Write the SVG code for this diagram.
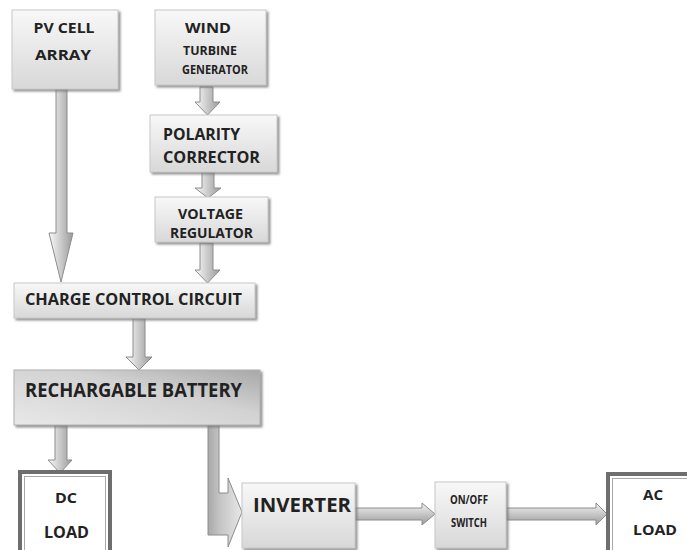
<svg xmlns="http://www.w3.org/2000/svg" width="687" height="550" viewBox="0 0 687 550">
<defs>
<linearGradient id="boxg" x1="0" y1="0" x2="0" y2="1">
<stop offset="0" stop-color="#f8f8f8"/>
<stop offset="1" stop-color="#d8d8d8"/>
</linearGradient>
<linearGradient id="batg" x1="0" y1="1" x2="1" y2="0">
<stop offset="0" stop-color="#e8e8e8"/>
<stop offset="0.6" stop-color="#d2d2d2"/>
<stop offset="1" stop-color="#a8a8a8"/>
</linearGradient>
<linearGradient id="varr" x1="0" y1="0" x2="1" y2="0">
<stop offset="0" stop-color="#fafafa"/>
<stop offset="1" stop-color="#9a9a9a"/>
</linearGradient>
<linearGradient id="harr" x1="0" y1="0" x2="0" y2="1">
<stop offset="0" stop-color="#f4f4f4"/>
<stop offset="1" stop-color="#9a9a9a"/>
</linearGradient>
<linearGradient id="bent" gradientUnits="userSpaceOnUse" x1="206" y1="0" x2="240" y2="0">
<stop offset="0" stop-color="#a4a4a4"/>
<stop offset="0.4" stop-color="#c4c4c4"/>
<stop offset="1" stop-color="#e4e4e4"/>
</linearGradient>
<filter id="sh" x="-10%" y="-10%" width="130%" height="140%">
<feDropShadow dx="2" dy="2" stdDeviation="1.2" flood-color="#777" flood-opacity="0.8"/>
</filter>
</defs>
<style>
.box{fill:url(#boxg);stroke:#c8c8c8;stroke-width:1;filter:url(#sh)}
.bat{fill:url(#batg);stroke:#b0b0b0;stroke-width:1;filter:url(#sh)}
.t{font-family:"Open Sans","Liberation Sans",sans-serif;font-weight:bold;fill:#222}
.c{text-anchor:middle}
.va{fill:url(#varr);stroke:#8c8c8c;stroke-width:1}
.ha{fill:url(#harr);stroke:#8c8c8c;stroke-width:1}
.frame{fill:#fff;stroke:#6e6e6e;stroke-width:4}
.inner{fill:none;stroke:#a8a8a8;stroke-width:1}
</style>
<rect width="687" height="550" fill="#fff"/>

<g id="connectors">
<polygon class="va" points="56,89 67,89 67,233 73,233 61,282 49,233 56,233"/>
<polygon class="va" points="200,87 213,87 213,102 220,102 207.5,115 195,102 200,102"/>
<polygon class="va" points="202,172 214,172 214,188 221,188 208,198 195,188 202,188"/>
<polygon class="va" points="200,243 213,243 213,270 220,270 207.5,283 195,270 200,270"/>
<polygon class="va" points="133,318 145,318 145,357 152,357 139,370 126,357 133,357"/>
<polygon class="va" points="55,425 67,425 67,460 72,460 60,473 48,460 55,460"/>
<polygon fill="url(#bent)" stroke="#8c8c8c" stroke-width="1" points="208,425 219,425 219,493 228,493 228,478 242,512 228,547 228,535 208,535"/>
<polygon class="ha" points="355,508 422,508 422,503 435,514 422,525 422,520 355,520"/>
<polygon class="ha" points="506,508 596,508 596,503 607,514 596,525 596,520 506,520"/>
</g>

<g id="pv">
<rect class="box" x="12" y="10" width="106" height="79"/>
<text class="t c" x="64" y="33" font-size="14.5" textLength="61" lengthAdjust="spacingAndGlyphs">PV CELL</text>
<text class="t c" x="63" y="60" font-size="14.5" textLength="56" lengthAdjust="spacingAndGlyphs">ARRAY</text>
</g>

<g id="wind">
<rect class="box" x="155" y="10" width="111" height="75"/>
<text class="t c" x="208" y="33" font-size="15" textLength="46" lengthAdjust="spacingAndGlyphs">WIND</text>
<text class="t c" x="210" y="55" font-size="11.5" textLength="54" lengthAdjust="spacingAndGlyphs">TURBINE</text>
<text class="t c" x="215" y="74" font-size="11.5" textLength="66" lengthAdjust="spacingAndGlyphs">GENERATOR</text>
</g>

<g id="polarity">
<rect class="box" x="150" y="115" width="127" height="57"/>
<text class="t" x="163" y="140" font-size="16.5" textLength="77" lengthAdjust="spacingAndGlyphs">POLARITY</text>
<text class="t" x="163" y="163" font-size="16.5" textLength="97" lengthAdjust="spacingAndGlyphs">CORRECTOR</text>
</g>

<g id="voltage">
<rect class="box" x="155" y="197" width="113" height="45"/>
<text class="t c" x="210.5" y="219" font-size="13.5" textLength="65" lengthAdjust="spacingAndGlyphs">VOLTAGE</text>
<text class="t c" x="211.5" y="238" font-size="13.5" textLength="83" lengthAdjust="spacingAndGlyphs">REGULATOR</text>
</g>

<g id="charge">
<rect class="box" x="14" y="283" width="241" height="35"/>
<text class="t" x="25" y="305" font-size="16.5" textLength="217" lengthAdjust="spacingAndGlyphs">CHARGE CONTROL CIRCUIT</text>
</g>

<g id="battery">
<rect class="bat" x="14" y="370" width="246" height="55"/>
<text class="t" x="25" y="397" font-size="19.5" textLength="217" lengthAdjust="spacingAndGlyphs">RECHARGABLE BATTERY</text>
</g>

<g id="dcload">
<rect class="frame" x="20" y="472" width="90" height="90"/>
<rect class="inner" x="24.5" y="476.5" width="81" height="80"/>
<text class="t c" x="66" y="503" font-size="15" textLength="22" lengthAdjust="spacingAndGlyphs">DC</text>
<text class="t c" x="66.5" y="538" font-size="16" textLength="45" lengthAdjust="spacingAndGlyphs">LOAD</text>
</g>

<g id="inverter">
<rect class="box" x="242" y="483" width="113" height="65"/>
<text class="t" x="253" y="512" font-size="19.5" textLength="98" lengthAdjust="spacingAndGlyphs">INVERTER</text>
</g>

<g id="switch">
<rect class="box" x="435" y="482" width="71" height="66"/>
<text class="t c" x="469" y="504" font-size="12" textLength="38" lengthAdjust="spacingAndGlyphs">ON/OFF</text>
<text class="t c" x="469" y="527" font-size="12" textLength="36" lengthAdjust="spacingAndGlyphs">SWITCH</text>
</g>

<g id="acload">
<rect class="frame" x="608" y="474" width="100" height="90"/>
<rect class="inner" x="612.5" y="478.5" width="90" height="80"/>
<text class="t" x="643" y="500" font-size="15" textLength="20" lengthAdjust="spacingAndGlyphs">AC</text>
<text class="t" x="633" y="535" font-size="15" textLength="44" lengthAdjust="spacingAndGlyphs">LOAD</text>
</g>
</svg>
